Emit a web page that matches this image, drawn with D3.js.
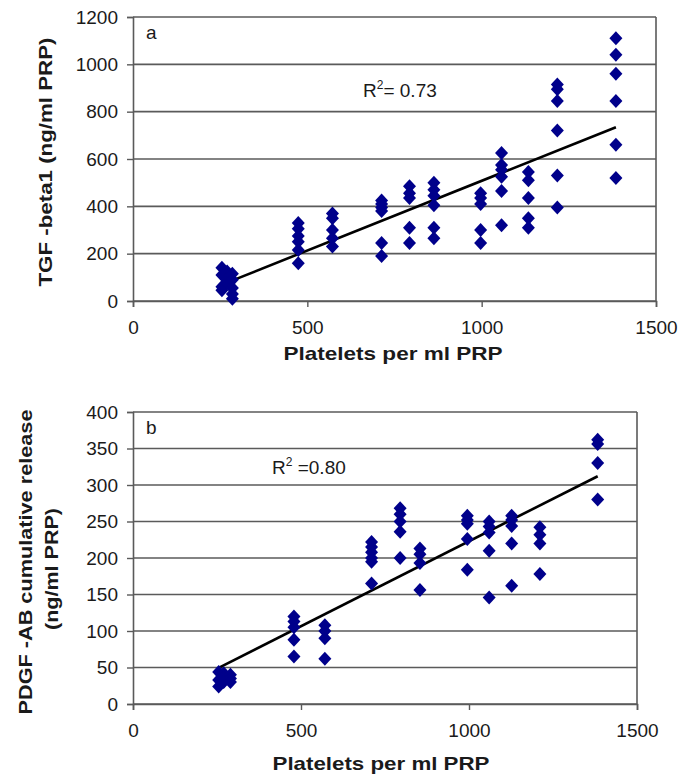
<!DOCTYPE html>
<html>
<head>
<meta charset="utf-8">
<script src="https://cdn.jsdelivr.net/npm/d3@7"></script>
<style>
  body { margin: 0; background: #fff; }
  text { font-family: "Liberation Sans", Arial, sans-serif; fill: #1a1a1a; }
</style>
</head>
<body>
<div id="viz"></div>
<script>
// x columns (platelets per ml PRP) and the values read at each column
var xTicks = [0, 500, 1000, 1500];

var plateletsA = [255, 270, 285, 474, 572, 713, 793, 863, 997, 1057, 1134, 1217, 1385];
var tgfA = [
  [140, 110, 60, 45],
  [125, 95, 75],
  [115, 90, 55, 30, 10],
  [330, 305, 275, 250, 215, 160],
  [370, 350, 300, 265, 230],
  [425, 410, 395, 380, 245, 190],
  [485, 455, 435, 310, 245],
  [500, 470, 445, 405, 310, 265],
  [455, 435, 410, 300, 245],
  [625, 575, 555, 525, 465, 320],
  [545, 510, 435, 350, 310],
  [915, 895, 845, 720, 530, 395],
  [1110, 1040, 960, 845, 660, 520]
];
var tgfTicks = [0, 200, 400, 600, 800, 1000, 1200];

var plateletsB = [255, 270, 290, 479, 571, 710, 795, 854, 995, 1060, 1127, 1211, 1383];
var pdgfB = [
  [44, 33, 24],
  [42, 36, 30],
  [40, 35, 30],
  [120, 113, 105, 88, 65],
  [108, 100, 90, 62],
  [222, 215, 208, 200, 195, 165],
  [268, 260, 250, 236, 200],
  [213, 205, 193, 156],
  [258, 252, 247, 226, 184],
  [250, 243, 235, 210, 146],
  [258, 252, 244, 220, 162],
  [242, 232, 220, 178],
  [362, 356, 330, 280]
];
var pdgfTicks = [0, 50, 100, 150, 200, 250, 300, 350, 400];

var svg = d3.select('#viz').append('svg')
  .attr('width', 679)
  .attr('height', 779);

function flatten(cols, vals) {
  var pts = [];
  cols.forEach(function(x, i) {
    vals[i].forEach(function(v) { pts.push({ x: x, y: v }); });
  });
  return pts;
}

// least squares trend, like the spreadsheet trendline
function fit(pts) {
  var mx = d3.mean(pts, function(d) { return d.x; });
  var my = d3.mean(pts, function(d) { return d.y; });
  var sxy = d3.sum(pts, function(d) { return (d.x - mx) * (d.y - my); });
  var sxx = d3.sum(pts, function(d) { return (d.x - mx) * (d.x - mx); });
  var b = sxy / sxx;
  return { a: my - b * mx, b: b };
}

function drawPanel(cfg) {
  var x = d3.scaleLinear().domain([0, 1500]).range([cfg.left, cfg.right]);
  var y = d3.scaleLinear().domain([0, cfg.ymax]).range([cfg.bottom, cfg.top]);
  var g = svg.append('g');

  g.selectAll('line.grid').data(cfg.yTicks).enter().append('line')
    .attr('x1', cfg.left).attr('x2', cfg.right)
    .attr('y1', function(d) { return y(d); })
    .attr('y2', function(d) { return y(d); })
    .attr('stroke', '#5a5a5a').attr('stroke-width', 1.6);
  g.append('line')
    .attr('x1', cfg.right).attr('x2', cfg.right)
    .attr('y1', cfg.top).attr('y2', cfg.bottom)
    .attr('stroke', '#5a5a5a').attr('stroke-width', 1.6);

  var ya = g.append('g').attr('transform', 'translate(' + cfg.left + ',0)')
    .call(d3.axisLeft(y).tickValues(cfg.yTicks).tickFormat(d3.format('d')).tickSize(6).tickPadding(9));
  var xa = g.append('g').attr('transform', 'translate(0,' + cfg.bottom + ')')
    .call(d3.axisBottom(x).tickValues(xTicks).tickFormat(d3.format('d')).tickSize(6).tickPadding(cfg.xPad));
  [ya, xa].forEach(function(a) {
    a.select('.domain').attr('stroke', '#5a5a5a').attr('stroke-width', 1.6);
    a.selectAll('.tick line').attr('stroke', '#5a5a5a').attr('stroke-width', 1.4);
    a.selectAll('.tick text').style('font-size', '19px').attr('fill', '#222');
  });

  var pts = flatten(cfg.cols, cfg.vals);
  var lf = fit(pts);
  var x0 = d3.min(cfg.cols), x1 = d3.max(cfg.cols);
  g.append('line')
    .attr('x1', x(x0)).attr('y1', y(lf.a + lf.b * x0))
    .attr('x2', x(x1)).attr('y2', y(lf.a + lf.b * x1))
    .attr('stroke', '#000').attr('stroke-width', 2.6);

  g.selectAll('path.pt').data(pts).enter().append('path')
    .attr('d', 'M0,-7L6.5,0L0,7L-6.5,0Z')
    .attr('fill', '#00008b')
    .attr('transform', function(d) { return 'translate(' + x(d.x) + ',' + y(d.y) + ')'; });

  g.append('text').attr('x', cfg.left + 13).attr('y', cfg.top + 22)
    .style('font-size', '19px').text(cfg.letter);

  var r = g.append('text').attr('x', cfg.r2x).attr('y', cfg.r2y).style('font-size', '19px');
  r.append('tspan').text('R');
  r.append('tspan').attr('dy', -8).style('font-size', '12px').text('2');
  r.append('tspan').attr('dy', 8).text(cfg.r2text);

  g.append('text').attr('x', cfg.xTitleX).attr('y', cfg.xTitleY)
    .attr('text-anchor', 'middle')
    .attr('textLength', cfg.xTitleLen).attr('lengthAdjust', 'spacingAndGlyphs')
    .style('font-size', '19px').style('font-weight', 'bold')
    .text('Platelets per ml PRP');

  cfg.yTitle.forEach(function(t, i) {
    g.append('text')
      .attr('transform', 'translate(' + cfg.yTitleX[i] + ',' + cfg.yTitleMid[i] + ') rotate(-90)')
      .attr('text-anchor', 'middle')
      .attr('textLength', cfg.yTitleLen[i]).attr('lengthAdjust', 'spacingAndGlyphs')
      .style('font-size', '19px').style('font-weight', 'bold')
      .text(t);
  });
}

drawPanel({
  left: 133, right: 656, top: 17, bottom: 301, ymax: 1200,
  yTicks: tgfTicks, cols: plateletsA, vals: tgfA, xPad: 14,
  letter: 'a', r2x: 363, r2y: 97, r2text: '= 0.73',
  xTitleX: 393, xTitleY: 360, xTitleLen: 219,
  yTitle: ['TGF -beta1 (ng/ml PRP)'], yTitleX: [52], yTitleMid: [162], yTitleLen: [249]
});

drawPanel({
  left: 133, right: 637, top: 412, bottom: 704, ymax: 400,
  yTicks: pdgfTicks, cols: plateletsB, vals: pdgfB, xPad: 14,
  letter: 'b', r2x: 272, r2y: 474, r2text: ' =0.80',
  xTitleX: 381, xTitleY: 770, xTitleLen: 217,
  yTitle: ['PDGF -AB cumulative release', '(ng/ml PRP)'], yTitleX: [32, 58], yTitleMid: [562, 569], yTitleLen: [305, 122]
});
</script>
</body>
</html>
